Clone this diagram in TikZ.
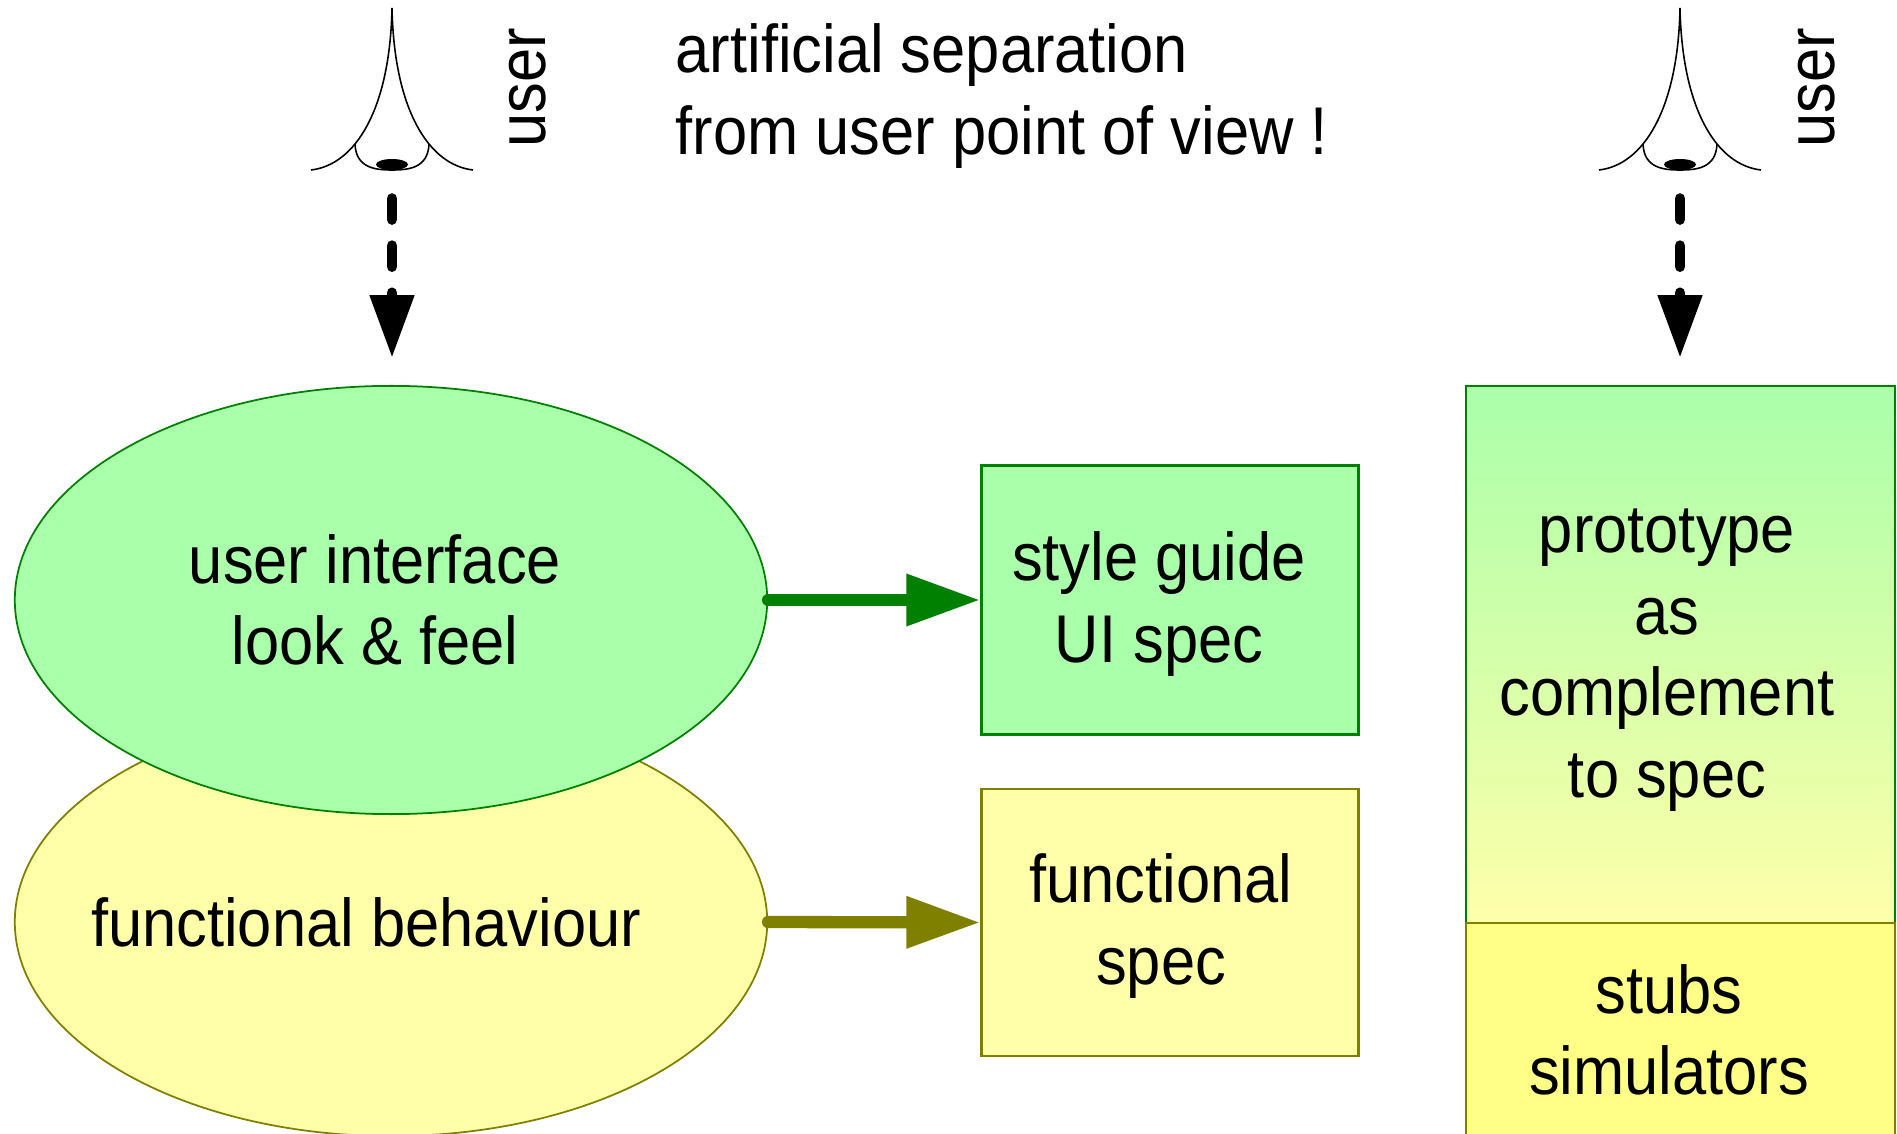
\documentclass[tikz,border=0pt]{standalone}
\usepackage{fontspec}
\setmainfont{Liberation Sans}[FakeStretch=0.91]
\usetikzlibrary{positioning,arrows.meta,shapes.geometric}

\definecolor{uigreen}{RGB}{170,255,170}
\definecolor{uiline}{RGB}{0,128,0}
\definecolor{specyellow}{RGB}{255,255,170}
\definecolor{specline}{RGB}{128,128,0}
\definecolor{stubyellow}{RGB}{255,255,136}

\tikzset{
	usereye/.pic={
		\draw[line width=0.45pt] (-81,162) .. controls (-37,157) and (-2,102) .. (0,0)
			.. controls (2,102) and (37,157) .. (81,162);
		\draw[line width=0.45pt] (-37,136) .. controls (-36,160) and (-17,162) .. (0,162)
			.. controls (17,162) and (36,160) .. (37,136);
		\fill (0,156.5) ellipse [x radius=16, y radius=5.5];
		\coordinate (-tail) at (0,190.5);
	}
}

\begin{document}
\begin{tikzpicture}[x=0.01cm,y=-0.01cm,
	txt/.style={font=\fontsize{19.2pt}{23.2pt}\selectfont, align=center, inner sep=0pt},
	ell/.style={ellipse, minimum width=7.52cm, minimum height=4.28cm, inner sep=0pt, line width=0.5pt},
	specbox/.style={rectangle, minimum width=3.77cm, line width=0.7pt},
	protobox/.style={rectangle, minimum width=4.29cm, line width=0.7pt},
	lookarrow/.style={-{Triangle[length=17.9pt,width=12pt]}, line width=3pt, line cap=round, dash pattern=on 6pt off 7.4pt},
	specarrow/.style={-{Triangle[length=21pt,width=14pt]}, line width=3.5pt, line cap=round}]
	\clip (0,0) rectangle (1897,1134);

	% the two users looking at it
	\pic (eyeL) at (392,8) {usereye};
	\pic (eyeR) at (1680,8) {usereye};
	\node [txt, rotate=90] (userL) at (528,88) {user};
	\node [txt, rotate=90] (userR) at (1817,88) {user};
	\coordinate (lookL) at (392,358);
	\coordinate (lookR) at (1680,358);
	\node [txt, align=left, anchor=west] (note) at (675,96) {artificial separation\\from user point of view !};

	% left: the two aspects
	\node [ell, fill=specyellow, draw=specline] (behav) at (391,922) {};
	\node [ell, fill=uigreen, draw=uiline] (ui) at (391,600) {};
	\node [txt] (behavtext) at (366,922) {functional behaviour};
	\node [txt] (uitext) at (375,600) {user interface\\look \& feel};
	\node [specbox, minimum height=2.69cm, fill=uigreen, draw=uiline] (guide) at (1170,600) {};
	\node [txt] (guidetext) at (1159,604) {style guide\\UI spec};
	\node [specbox, minimum height=2.67cm, fill=specyellow, draw=specline] (fspec) at (1170,922.5) {};
	\node [txt] (fspectext) at (1161,926) {functional\\spec};

	% right: prototype
	\node [protobox, minimum height=5.37cm, top color=uigreen, bottom color=specyellow, draw=uiline] (proto) at (1680.5,654.5) {};
	\node [protobox, minimum height=2.14cm, fill=stubyellow, draw=specline] (stubs) at (1680.5,1030) {};
	\node [txt] (prototext) at (1667,660) {prototype\\as\\complement\\to spec};
	\node [txt] (stubstext) at (1669,1030) {stubs\\simulators};

	\draw [lookarrow] (eyeL-tail) -- (lookL);
	\draw [lookarrow] (eyeR-tail) -- (lookR);
	\draw [specarrow, uiline] (ui.east) -- (guide.west);
	\draw [specarrow, specline] (behav.east) -- (fspec.west);
\end{tikzpicture}
\end{document}
